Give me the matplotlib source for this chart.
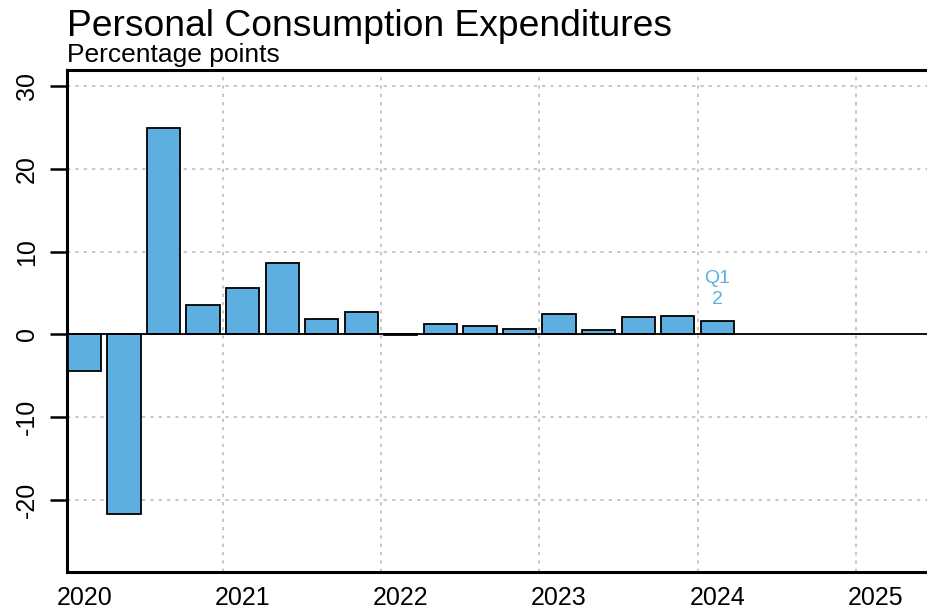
import numpy as np
import matplotlib.pyplot as plt

plt.rcParams['font.family'] = ['Liberation Sans', 'DejaVu Sans']

# Quarterly contribution of PCE, 2020Q1 .. 2024Q1
quarters = ['2020Q1', '2020Q2', '2020Q3', '2020Q4',
            '2021Q1', '2021Q2', '2021Q3', '2021Q4',
            '2022Q1', '2022Q2', '2022Q3', '2022Q4',
            '2023Q1', '2023Q2', '2023Q3', '2023Q4',
            '2024Q1']
values = [-4.4, -21.7, 24.9, 3.6,
          5.6, 8.6, 1.8, 2.7,
          -0.05, 1.3, 1.0, 0.7,
          2.5, 0.5, 2.05, 2.2,
          1.65]
year_labels = ['2020', '2021', '2022', '2023', '2024', '2025']
y_ticks = [-20, -10, 0, 10, 20, 30]

bar_color = '#5eafe1'

fig = plt.figure(figsize=(9.28, 6.10), dpi=100)
ax = fig.add_axes([67 / 928, 38 / 610, 871 / 928, 502 / 610])

x = np.arange(len(values))
ax.bar(x, values, width=0.84, color=bar_color, edgecolor='black',
       linewidth=1.3, zorder=3)
ax.axhline(0, color='black', linewidth=1.3, zorder=4)

ax.set_xlim(-0.44, 21.58)
ax.set_ylim(-28.7, 31.93)

# grid
for k in range(1, 6):
    ax.axvline(4 * k - 0.5, color='#bdbdbd', linestyle=(0, (2, 3)),
               linewidth=1.2, zorder=1)
for yv in y_ticks:
    ax.axhline(yv, color='#bdbdbd', linestyle=(0, (2, 3)),
               linewidth=1.2, zorder=1)

ax.set_yticks(y_ticks)
ax.set_yticklabels([str(v) for v in y_ticks], rotation=90, va='center',
                   fontsize=18)
ax.set_xticks([4 * i for i in range(len(year_labels))])
ax.set_xticklabels(year_labels, fontsize=18)
ax.tick_params(axis='y', length=12, width=1.8, pad=8)
ax.tick_params(axis='x', length=0, pad=10)

for side in ['left', 'top', 'bottom']:
    ax.spines[side].set_linewidth(2.2)
ax.spines['right'].set_visible(False)

# latest quarter label
last = len(values) - 1
ax.text(last, 5.5, 'Q1\n' + str(int(round(values[last]))), color=bar_color,
        fontsize=14, ha='center', va='center', linespacing=1.3)

fig.text(67 / 928, 1 - 36 / 610, 'Personal Consumption Expenditures',
         fontsize=26.8, ha='left', va='baseline')
fig.text(67 / 928, 1 - 62 / 610, 'Percentage points',
         fontsize=19, ha='left', va='baseline')

fig.savefig('out.png', dpi=100)
